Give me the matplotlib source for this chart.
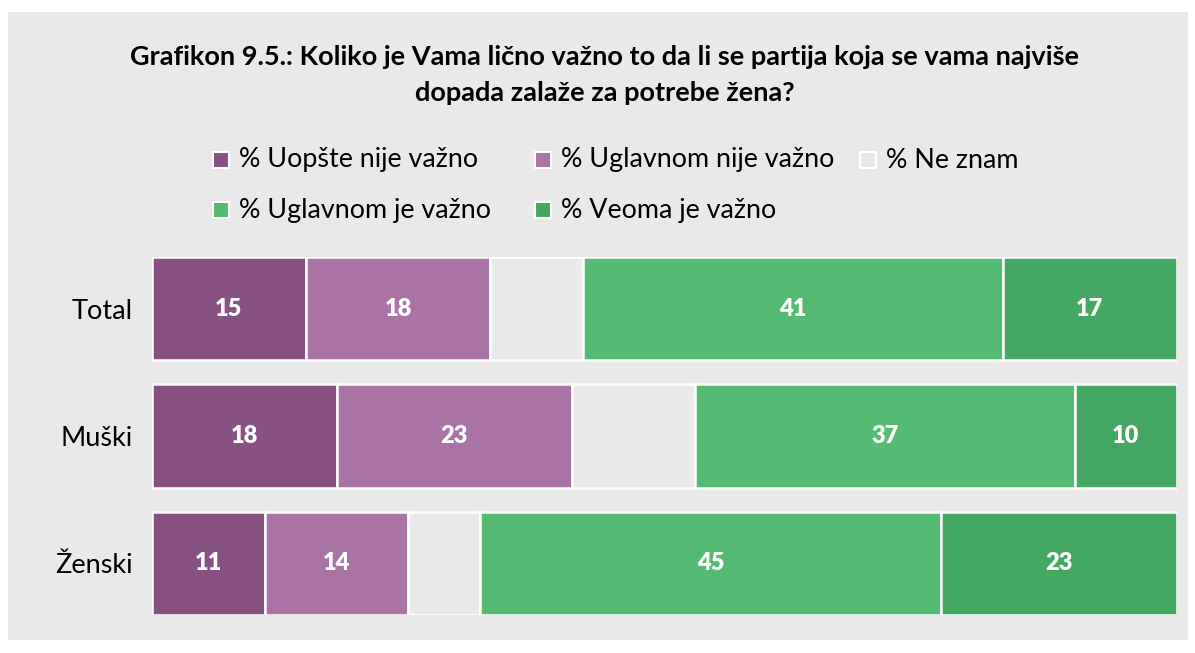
import matplotlib.pyplot as plt
from matplotlib.patches import Rectangle
import numpy as np

plt.rcParams['font.family'] = ['Lato', 'DejaVu Sans']

# survey answers per group, in percent
groups = ['Total', 'Muški', 'Ženski']
uopste_nije = [15, 18, 11]
uglavnom_nije = [18, 23, 14]
ne_znam = [9, 12, 7]
uglavnom_je = [41, 37, 45]
veoma_je = [17, 10, 23]

series_names = ['% Uopšte nije važno', '% Uglavnom nije važno', '% Ne znam',
                '% Uglavnom je važno', '% Veoma je važno']
series = [uopste_nije, uglavnom_nije, ne_znam, uglavnom_je, veoma_je]
colors = ['#875281', '#a974a5', '#e9e9e9', '#55bb73', '#45a862']
show_label = [True, True, False, True, True]

bg = '#e9e9e9'
W, H = 1195, 653

fig = plt.figure(figsize=(W / 100, H / 100), dpi=100)
fig.patch.set_facecolor('white')
fig.patches.append(Rectangle((8 / W, 13 / H), 1180 / W, 628 / H,
                             transform=fig.transFigure, facecolor=bg,
                             edgecolor='none', zorder=-10))

ax = fig.add_axes([152 / W, 1 - 615 / H, 1025 / W, 358 / H])
ax.set_facecolor('none')

y = np.arange(len(groups))
left = np.zeros(len(groups))
for name, vals, col, lab in zip(series_names, series, colors, show_label):
    vals = np.array(vals, dtype=float)
    bars = ax.barh(y, vals, left=left, height=0.81, color=col,
                   edgecolor='white', linewidth=1.8, label=name)
    if lab:
        for b, v in zip(bars, vals):
            ax.text(b.get_x() + b.get_width() / 2, b.get_y() + b.get_height() / 2,
                    f'{int(v)}', ha='center', va='center', color='white',
                    fontsize=17, fontweight='heavy')
    left += vals

ax.set_xlim(0, 100)
ax.set_ylim(2.405, -0.405)
ax.set_yticks(y)
ax.set_yticklabels(groups, fontsize=19.5)
ax.tick_params(axis='y', length=0, pad=14)
ax.set_xticks([])
for s in ax.spines.values():
    s.set_visible(False)

fig.text(0.506, 1 - 57 / H, 'Grafikon 9.5.: Koliko je Vama lično važno to da li se partija koja se vama najviše',
         ha='center', va='center', fontsize=19.5, fontweight='bold')
fig.text(0.506, 1 - 93 / H, 'dopada zalaže za potrebe žena?',
         ha='center', va='center', fontsize=19.5, fontweight='bold')

# legend laid out by hand: three entries on the first row, two on the second
legend_slots = [(213, 160), (535, 160), (860, 160), (213, 210), (535, 210)]
box = 16
for (lx, ly), name, col in zip(legend_slots, series_names, colors):
    fig.patches.append(Rectangle((lx / W, 1 - (ly + box / 2) / H), box / W, box / H,
                                 transform=fig.transFigure, facecolor=col,
                                 edgecolor='white', linewidth=1.5))
    fig.text((lx + box + 10) / W, 1 - ly / H, name, ha='left', va='center',
             fontsize=19.4)

fig.savefig('out.png', dpi=100, facecolor='white')
